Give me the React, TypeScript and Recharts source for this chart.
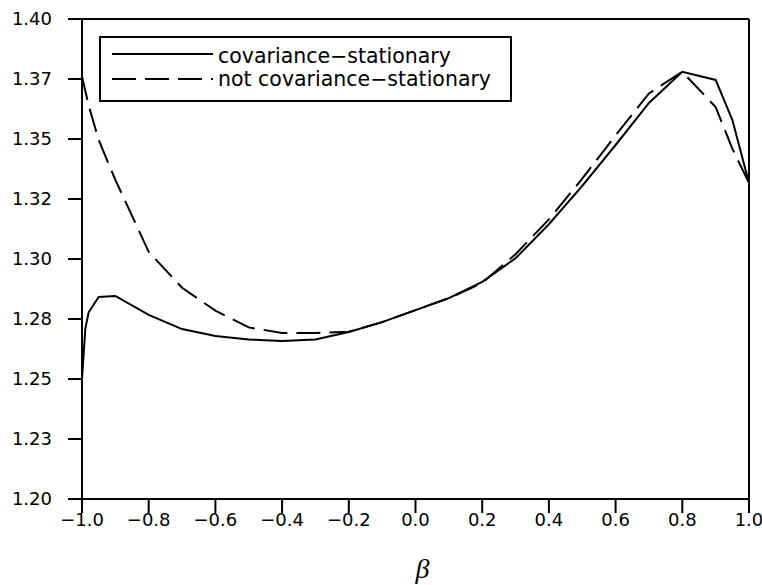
import React from "react";
import { LineChart, Line, XAxis, YAxis, ReferenceLine, Legend } from "recharts";

const betaValues = [-1.0, -0.99, -0.98, -0.95, -0.9, -0.8, -0.7, -0.6, -0.5, -0.4, -0.3, -0.2, -0.1, 0.0, 0.1, 0.2, 0.3, 0.4, 0.5, 0.6, 0.7, 0.8, 0.9, 0.95, 1.0];
const stationaryValues = [1.25, 1.271, 1.2778, 1.2842, 1.2846, 1.2767, 1.2708, 1.2679, 1.2665, 1.2658, 1.2665, 1.2696, 1.2737, 1.2787, 1.2837, 1.2905, 1.3003, 1.3145, 1.3305, 1.3475, 1.365, 1.378, 1.3746, 1.358, 1.3317];
const nonStationaryValues = [1.376, 1.37, 1.364, 1.3496, 1.333, 1.303, 1.288, 1.2785, 1.2715, 1.2692, 1.2692, 1.2697, 1.2737, 1.2787, 1.2837, 1.29, 1.302, 1.3165, 1.3335, 1.3515, 1.369, 1.378, 1.3633, 1.346, 1.3317];

const xTicks = [-1.0, -0.8, -0.6, -0.4, -0.2, 0.0, 0.2, 0.4, 0.6, 0.8, 1.0];
const yTicks = [1.2, 1.225, 1.25, 1.275, 1.3, 1.325, 1.35, 1.375, 1.4];
const yTickLabels = ["1.20", "1.23", "1.25", "1.28", "1.30", "1.32", "1.35", "1.37", "1.40"];
const seriesNames = ["covariance\u2212stationary", "not covariance\u2212stationary"];

const data = betaValues.map((b, i) => ({
  beta: b,
  stationary: stationaryValues[i],
  nonStationary: nonStationaryValues[i],
}));

const FONT = "'DejaVu Sans', sans-serif";
const DASH = "24 9";
const TICK_LEN = 14;
const Y_GAP = 16;
const X_GAP = 0;

const fmtX = (v: number) => {
  const s = Math.abs(v).toFixed(1);
  return v < -1e-9 ? "\u2212" + s : s;
};
const fmtY = (v: number) => {
  const i = yTicks.findIndex((t) => Math.abs(t - v) < 1e-9);
  return i >= 0 ? yTickLabels[i] : String(v);
};

const YTick = (props: any) => {
  const { x, y, payload } = props;
  const x2 = x + Y_GAP;
  return (
    <g>
      <line x1={x2} x2={x2 + TICK_LEN} y1={y} y2={y} stroke="#000" strokeWidth={2} />
      <text x={x} y={y} dy="0.36em" textAnchor="end" fontFamily={FONT} fontSize={18} fill="#000">
        {fmtY(payload.value)}
      </text>
    </g>
  );
};

const XTick = (props: any) => {
  const { x, y, payload } = props;
  const y2 = y - X_GAP;
  return (
    <g>
      <line x1={x} x2={x} y1={y2 - TICK_LEN} y2={y2} stroke="#000" strokeWidth={2} />
      <text x={x} y={y} dy="0.71em" textAnchor="middle" fontFamily={FONT} fontSize={18} fill="#000">
        {fmtX(payload.value)}
      </text>
    </g>
  );
};

const LegendBox = () => (
  <svg width={413} height={66} style={{ display: "block" }}>
    <rect x={1} y={1} width={411} height={64} fill="#fff" stroke="#000" strokeWidth={2} />
    <line x1={13} x2={114} y1={18} y2={18} stroke="#000" strokeWidth={2} />
    <text x={119} y={26.5} fontFamily={FONT} fontSize={20.5} fill="#000">{seriesNames[0]}</text>
    <line x1={13} x2={114} y1={43} y2={43} stroke="#000" strokeWidth={2} strokeDasharray={DASH} />
    <text x={119} y={50} fontFamily={FONT} fontSize={20.5} fill="#000">{seriesNames[1]}</text>
  </svg>
);

const BetaLabel = (props: any) => {
  const vb = props.viewBox || {};
  const cx = (vb.x || 0) + (vb.width || 0) / 2 + 7;
  return (
    <text x={cx} y={(vb.y || 0) + 79} textAnchor="middle" fontFamily="'Liberation Serif', serif" fontStyle="italic" fontSize={28} fill="#000">
      β
    </text>
  );
};

export default function App() {
  return (
    <div style={{ position: "absolute", left: 0, top: 0, width: 762, height: 585, background: "#fff" }}>
      <LineChart width={762} height={585} data={data} margin={{ top: 19, right: 13, left: 22, bottom: 26 }}>
        <XAxis
          dataKey="beta"
          type="number"
          domain={[-1, 1]}
          ticks={xTicks}
          allowDataOverflow
          height={60}
          tickSize={TICK_LEN}
          tickMargin={X_GAP}
          axisLine={{ stroke: "#000", strokeWidth: 2 }}
          tickLine={false}
          tick={<XTick />}
          label={<BetaLabel />}
        />
        <YAxis
          type="number"
          domain={[1.2, 1.4]}
          ticks={yTicks}
          allowDataOverflow
          width={60}
          tickSize={TICK_LEN}
          tickMargin={Y_GAP}
          axisLine={{ stroke: "#000", strokeWidth: 2 }}
          tickLine={false}
          tick={<YTick />}
        />
        <ReferenceLine y={1.4} stroke="#000" strokeWidth={2} />
        <ReferenceLine x={1} stroke="#000" strokeWidth={2} />
        <Line type="linear" dataKey="nonStationary" name={seriesNames[1]} stroke="#000" strokeWidth={2} strokeDasharray={DASH} dot={false} isAnimationActive={false} />
        <Line type="linear" dataKey="stationary" name={seriesNames[0]} stroke="#000" strokeWidth={2} dot={false} isAnimationActive={false} />
        <Legend
          layout="horizontal"
          verticalAlign="middle"
          align="center"
          content={<LegendBox />}
          wrapperStyle={{ position: "absolute", left: 99, top: 36, width: 413, height: 66 }}
        />
      </LineChart>
    </div>
  );
}
